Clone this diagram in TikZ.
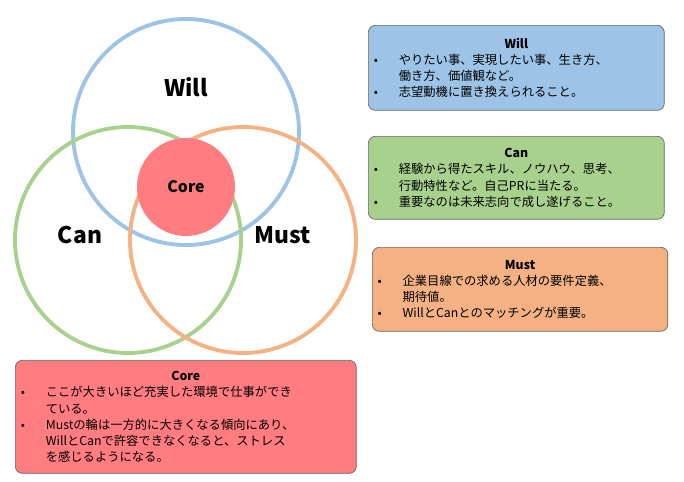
\documentclass[tikz,border=0pt]{standalone}
\usepackage{fontspec}
\setmainfont{Noto Sans CJK JP}
\usetikzlibrary{positioning}
\definecolor{willc}{RGB}{157,195,230}
\definecolor{canc}{RGB}{169,209,142}
\definecolor{mustc}{RGB}{244,177,131}
\definecolor{corec}{RGB}{255,124,128}
\tikzstyle{ring}=[line width=2.2pt]
\tikzstyle{infobox}=[rectangle, rounded corners=4pt, draw=black!60, thin, anchor=north west, inner sep=3pt, align=left, font=\fontsize{7}{9.2}\selectfont]
\tikzstyle{biglabel}=[font=\fontsize{13}{13}\selectfont\bfseries]
\newcommand{\bul}{\makebox[5mm][l]{•}}
\newcommand{\ind}{\makebox[5mm][l]{}}
\begin{document}
\begin{tikzpicture}[x=0.02cm, y=-0.02cm]
\useasboundingbox (0,0) rectangle (684,481);

% circles
    \draw[ring, willc] (186,132) circle (113);
    \draw[ring, canc] (128,240) circle (113);
    \draw[ring, mustc] (243,240) circle (113);
    \node (core) [circle, fill=corec, minimum size=1.96cm, font=\fontsize{9}{9}\selectfont\bfseries] at (186,187) {Core};

    \node (will) [biglabel] at (186,87) {Will};
    \node (can) [biglabel] at (80,235) {Can};
    \node (must) [biglabel] at (283,235) {Must};

% boxes
    \node (willbox) [infobox, fill=willc, minimum width=5.92cm, minimum height=1.7cm, text width=5.7cm] at (368,25)
    {\makebox[\linewidth]{\textbf{Will}}\\
     \bul やりたい事、実現したい事、生き方、\\
     \ind 働き方、価値観など。\\
     \bul 志望動機に置き換えられること。};
    \node (canbox) [infobox, fill=canc, minimum width=5.92cm, minimum height=1.66cm, text width=5.7cm] at (368,136)
    {\makebox[\linewidth]{\textbf{Can}}\\
     \bul 経験から得たスキル、ノウハウ、思考、\\
     \ind 行動特性など。自己PRに当たる。\\
     \bul 重要なのは未来志向で成し遂げること。};
    \node (mustbox) [infobox, fill=mustc, minimum width=5.9cm, minimum height=1.68cm, text width=5.7cm] at (372,247)
    {\makebox[\linewidth]{\textbf{Must}}\\
     \bul 企業目線での求める人材の要件定義、\\
     \ind 期待値。\\
     \bul WillとCanとのマッチングが重要。};
    \node (corebox) [infobox, fill=corec, minimum width=6.82cm, minimum height=2.26cm, text width=6.6cm] at (15,360)
    {\makebox[\linewidth]{\textbf{Core}}\\
     \bul ここが大きいほど充実した環境で仕事ができ\\
     \ind ている。\\
     \bul Mustの輪は一方的に大きくなる傾向にあり、\\
     \ind WillとCanで許容できなくなると、ストレス\\
     \ind を感じるようになる。};
\end{tikzpicture}
\end{document}
